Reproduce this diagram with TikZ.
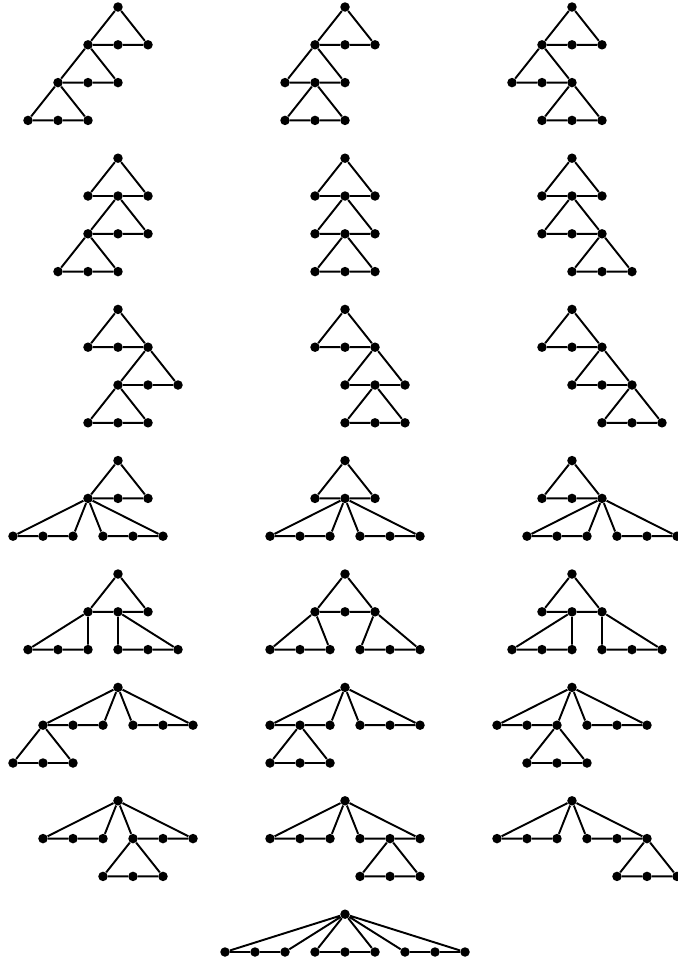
\documentclass[tikz,border=0pt]{standalone}
\usepackage{tikz}
\tikzset{
  v/.style={circle,fill=black,inner sep=0pt,minimum size=0.19cm},
  treeedge/.style={draw=black,line width=1.1pt,line join=round},
}
% triangle: parent #1, new nodes #2a,#2b,#2c on level #4, leftmost at x=#3
\newcommand{\tri}[4]{%
  \node[v] (#2a) at (#3,#4) {};
  \node[v] (#2b) at (#3+1,#4) {};
  \node[v] (#2c) at (#3+2,#4) {};
  \draw[treeedge] (#1)--(#2a)--(#2b)--(#2c)--(#1);
}

\begin{document}
\begin{tikzpicture}[x=0.6cm,y=0.756cm]
  \useasboundingbox (-2.36cm,0.14cm) rectangle (11.2cm,-19.16cm);
  % row 1
  \begin{scope}[shift={(0,0)}]
    \node[v] (g1) at (0,0) {};
    \tri{g1}{g1A}{-1}{-1} \tri{g1Aa}{g1B}{-2}{-2} \tri{g1Ba}{g1C}{-3}{-3}
  \end{scope}
  \begin{scope}[shift={(7.567,0)}]
    \node[v] (g2) at (0,0) {};
    \tri{g2}{g2A}{-1}{-1} \tri{g2Aa}{g2B}{-2}{-2} \tri{g2Bb}{g2C}{-2}{-3}
  \end{scope}
  \begin{scope}[shift={(15.133,0)}]
    \node[v] (g3) at (0,0) {};
    \tri{g3}{g3A}{-1}{-1} \tri{g3Aa}{g3B}{-2}{-2} \tri{g3Bc}{g3C}{-1}{-3}
  \end{scope}
  % row 2
  \begin{scope}[shift={(0,-4)}]
    \node[v] (g4) at (0,0) {};
    \tri{g4}{g4A}{-1}{-1} \tri{g4Ab}{g4B}{-1}{-2} \tri{g4Ba}{g4C}{-2}{-3}
  \end{scope}
  \begin{scope}[shift={(7.567,-4)}]
    \node[v] (g5) at (0,0) {};
    \tri{g5}{g5A}{-1}{-1} \tri{g5Ab}{g5B}{-1}{-2} \tri{g5Bb}{g5C}{-1}{-3}
  \end{scope}
  \begin{scope}[shift={(15.133,-4)}]
    \node[v] (g6) at (0,0) {};
    \tri{g6}{g6A}{-1}{-1} \tri{g6Ab}{g6B}{-1}{-2} \tri{g6Bc}{g6C}{0}{-3}
  \end{scope}
  % row 3
  \begin{scope}[shift={(0,-8)}]
    \node[v] (g7) at (0,0) {};
    \tri{g7}{g7A}{-1}{-1} \tri{g7Ac}{g7B}{0}{-2} \tri{g7Ba}{g7C}{-1}{-3}
  \end{scope}
  \begin{scope}[shift={(7.567,-8)}]
    \node[v] (g8) at (0,0) {};
    \tri{g8}{g8A}{-1}{-1} \tri{g8Ac}{g8B}{0}{-2} \tri{g8Bb}{g8C}{0}{-3}
  \end{scope}
  \begin{scope}[shift={(15.133,-8)}]
    \node[v] (g9) at (0,0) {};
    \tri{g9}{g9A}{-1}{-1} \tri{g9Ac}{g9B}{0}{-2} \tri{g9Bc}{g9C}{1}{-3}
  \end{scope}
  % row 4
  \begin{scope}[shift={(0,-12)}]
    \node[v] (g10) at (0,0) {};
    \tri{g10}{g10A}{-1}{-1} \tri{g10Aa}{g10B}{-3.5}{-2} \tri{g10Aa}{g10C}{-0.5}{-2}
  \end{scope}
  \begin{scope}[shift={(7.567,-12)}]
    \node[v] (g11) at (0,0) {};
    \tri{g11}{g11A}{-1}{-1} \tri{g11Ab}{g11B}{-2.5}{-2} \tri{g11Ab}{g11C}{0.5}{-2}
  \end{scope}
  \begin{scope}[shift={(15.133,-12)}]
    \node[v] (g12) at (0,0) {};
    \tri{g12}{g12A}{-1}{-1} \tri{g12Ac}{g12B}{-1.5}{-2} \tri{g12Ac}{g12C}{1.5}{-2}
  \end{scope}
  % row 5
  \begin{scope}[shift={(0,-15)}]
    \node[v] (g13) at (0,0) {};
    \tri{g13}{g13A}{-1}{-1} \tri{g13Aa}{g13B}{-3}{-2} \tri{g13Ab}{g13C}{0}{-2}
  \end{scope}
  \begin{scope}[shift={(7.567,-15)}]
    \node[v] (g14) at (0,0) {};
    \tri{g14}{g14A}{-1}{-1} \tri{g14Aa}{g14B}{-2.5}{-2} \tri{g14Ac}{g14C}{0.5}{-2}
  \end{scope}
  \begin{scope}[shift={(15.133,-15)}]
    \node[v] (g15) at (0,0) {};
    \tri{g15}{g15A}{-1}{-1} \tri{g15Ab}{g15B}{-2}{-2} \tri{g15Ac}{g15C}{1}{-2}
  \end{scope}
  % row 6
  \begin{scope}[shift={(0,-18)}]
    \node[v] (g16) at (0,0) {};
    \tri{g16}{g16A}{-2.5}{-1} \tri{g16}{g16B}{0.5}{-1} \tri{g16Aa}{g16C}{-3.5}{-2}
  \end{scope}
  \begin{scope}[shift={(7.567,-18)}]
    \node[v] (g17) at (0,0) {};
    \tri{g17}{g17A}{-2.5}{-1} \tri{g17}{g17B}{0.5}{-1} \tri{g17Ab}{g17C}{-2.5}{-2}
  \end{scope}
  \begin{scope}[shift={(15.133,-18)}]
    \node[v] (g18) at (0,0) {};
    \tri{g18}{g18A}{-2.5}{-1} \tri{g18}{g18B}{0.5}{-1} \tri{g18Ac}{g18C}{-1.5}{-2}
  \end{scope}
  % row 7
  \begin{scope}[shift={(0,-21)}]
    \node[v] (g19) at (0,0) {};
    \tri{g19}{g19A}{-2.5}{-1} \tri{g19}{g19B}{0.5}{-1} \tri{g19Ba}{g19C}{-0.5}{-2}
  \end{scope}
  \begin{scope}[shift={(7.567,-21)}]
    \node[v] (g20) at (0,0) {};
    \tri{g20}{g20A}{-2.5}{-1} \tri{g20}{g20B}{0.5}{-1} \tri{g20Bb}{g20C}{0.5}{-2}
  \end{scope}
  \begin{scope}[shift={(15.133,-21)}]
    \node[v] (g21) at (0,0) {};
    \tri{g21}{g21A}{-2.5}{-1} \tri{g21}{g21B}{0.5}{-1} \tri{g21Bc}{g21C}{1.5}{-2}
  \end{scope}
  % row 8
  \begin{scope}[shift={(7.567,-24)}]
    \node[v] (g22) at (0,0) {};
    \tri{g22}{g22A}{-4}{-1} \tri{g22}{g22B}{-1}{-1} \tri{g22}{g22C}{2}{-1}
  \end{scope}
\end{tikzpicture}
\end{document}
